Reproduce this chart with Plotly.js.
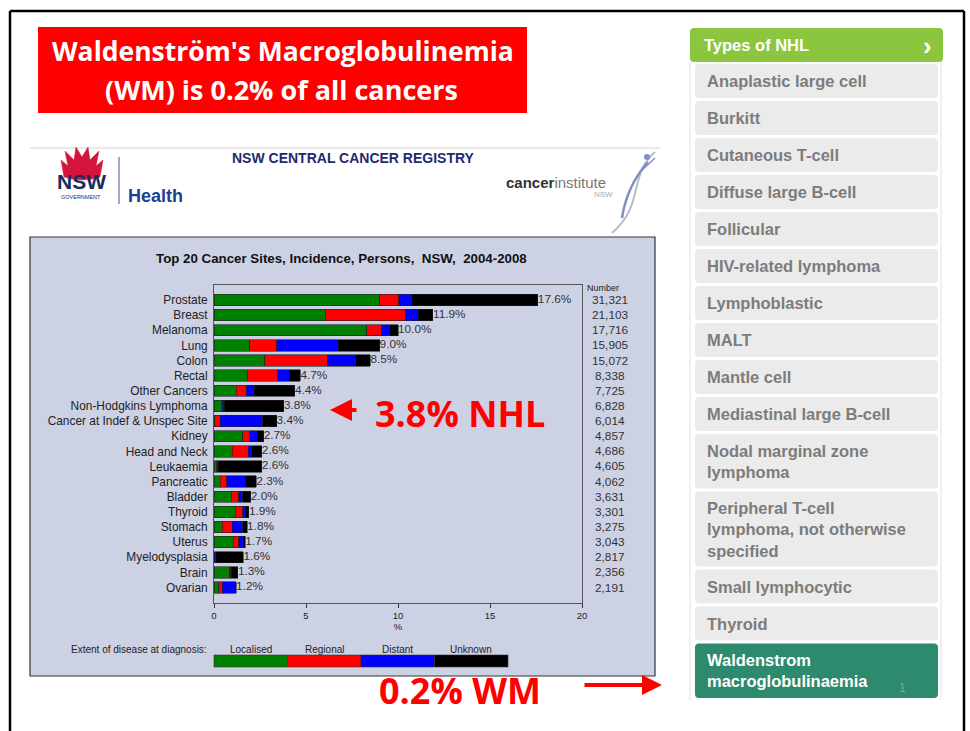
<!DOCTYPE html>
<html>
<head>
<meta charset="utf-8">
<script src="https://cdn.plot.ly/plotly-3.0.1.min.js"></script>
<style>
html,body{margin:0;padding:0;background:#fff;overflow:hidden;}
#chart{width:970px;height:731px;}
</style>
</head>
<body>
<div id="chart"></div>
<script>
// ---------------- DATA ----------------
const categories = ['Prostate','Breast','Melanoma','Lung','Colon','Rectal','Other Cancers','Non-Hodgkins Lymphoma','Cancer at Indef & Unspec Site','Kidney','Head and Neck','Leukaemia','Pancreatic','Bladder','Thyroid','Stomach','Uterus','Myelodysplasia','Brain','Ovarian'];
const localised = [9.0,6.05,8.3,1.95,2.75,1.8,1.2,0.4,0.05,1.55,1.0,0.15,0.35,0.95,1.15,0.45,1.05,0.02,0.85,0.25];
const regional  = [1.05,4.35,0.8,1.45,3.4,1.65,0.55,0.05,0.3,0.4,0.85,0.02,0.35,0.4,0.4,0.55,0.3,0.0,0.05,0.2];
const distant   = [0.7,0.7,0.45,3.35,1.55,0.65,0.45,0.1,2.3,0.4,0.2,0.05,1.0,0.2,0.15,0.55,0.25,0.08,0.05,0.7];
const unknown   = [6.85,0.8,0.45,2.25,0.8,0.6,2.2,3.25,0.75,0.35,0.55,2.38,0.6,0.45,0.2,0.25,0.1,1.5,0.35,0.05];
const pctLabels = ['17.6%','11.9%','10.0%','9.0%','8.5%','4.7%','4.4%','3.8%','3.4%','2.7%','2.6%','2.6%','2.3%','2.0%','1.9%','1.8%','1.7%','1.6%','1.3%','1.2%'];
const numbers   = ['31,321','21,103','17,716','15,905','15,072','8,338','7,725','6,828','6,014','4,857','4,686','4,605','4,062','3,631','3,301','3,275','3,043','2,817','2,356','2,191'];
const seriesNames = ['Localised','Regional','Distant','Unknown'];
const seriesColors = ['#008000','#ff0000','#0000ff','#000000'];
const xTicks = [0,5,10,15,20];
const nhlTypes = ['Anaplastic large cell','Burkitt','Cutaneous T-cell','Diffuse large B-cell','Follicular','HIV-related lymphoma','Lymphoblastic','MALT','Mantle cell','Mediastinal large B-cell','Nodal marginal zone<br>lymphoma','Peripheral T-cell<br>lymphoma, not otherwise<br>specified','Small lymphocytic','Thyroid','Waldenstrom<br>macroglobulinaemia'];

// ---------------- HELPERS ----------------
const W = 970, H = 731;
const X = p => p / W;
const Y = p => 1 - p / H;
const SANS = 'Liberation Sans, Arial, sans-serif';
const OPEN = 'Open Sans, Liberation Sans, sans-serif';
function rect(x0,y0,x1,y1,fill,line,lw,layer){
  return {type:'rect',xref:'paper',yref:'paper',x0:X(x0),x1:X(x1),y0:Y(y1),y1:Y(y0),
    fillcolor:fill,line:{color:line||fill,width:lw===undefined?0:lw},layer:layer||'below'};
}
function seg(x0,y0,x1,y1,color,w){
  return {type:'line',xref:'paper',yref:'paper',x0:X(x0),x1:X(x1),y0:Y(y0),y1:Y(y1),line:{color:color,width:w},layer:'above'};
}
function pth(pts,fill,line,lw,layer){
  return {type:'path',xref:'paper',yref:'paper',path:pts,fillcolor:fill,line:{color:line,width:lw},layer:layer||'above'};
}
const P = (x,y) => X(x).toFixed(5)+','+Y(y).toFixed(5);
function rrect(x0,y0,x1,y1,r){
  return 'M '+P(x0+r,y0)+' L '+P(x1-r,y0)+' Q '+P(x1,y0)+' '+P(x1,y0+r)+
    ' L '+P(x1,y1-r)+' Q '+P(x1,y1)+' '+P(x1-r,y1)+' L '+P(x0+r,y1)+' Q '+P(x0,y1)+' '+P(x0,y1-r)+
    ' L '+P(x0,y0+r)+' Q '+P(x0,y0)+' '+P(x0+r,y0)+' Z';
}
function txt(text,x,y,size,color,opts){
  return Object.assign({xref:'paper',yref:'paper',x:X(x),y:Y(y),text:text,showarrow:false,
    font:{family:SANS,size:size,color:color},xanchor:'center',yanchor:'middle'},opts||{});
}

// ---------------- TRACES ----------------
const seriesData = [localised, regional, distant, unknown];
const traces = seriesData.map((vals,i) => ({
  type:'bar', orientation:'h', name:seriesNames[i], x:vals, y:categories,
  marker:{color:seriesColors[i], line:{color:'#222', width:0.6}},
  hoverinfo:'skip', showlegend:false
}));
const totals = categories.map((c,i) => seriesData.reduce((s,arr)=>s+arr[i],0));
traces.push({
  type:'scatter', mode:'text', x:totals, y:categories, text:pctLabels,
  textposition:'middle right', textfont:{family:SANS,size:11.8,color:'#333'},
  cliponaxis:false, showlegend:false, hoverinfo:'skip'
});

// ---------------- SHAPES ----------------
const shapes = [];
shapes.push(seg(10,11,10,731,'#000',2.5));
shapes.push(seg(10,11,964,11,'#000',2.5));
shapes.push(seg(964,11,964,731,'#000',2.5));
shapes.push(rect(38,27,527,113,'#ff0000'));
shapes.push(seg(30,148,660,148,'#d4d4d4',1));
shapes.push(rect(30,237,655,676,'#cdd1e4','#333',1.2));
seriesNames.forEach((n,i)=>{
  const x0 = 214 + i*73.5;
  shapes.push(rect(x0,655,x0+73.5,667,seriesColors[i],'#333',0.6,'above'));
});
shapes.push(seg(119,157,119,204,'#5a6fa8',1.2));
shapes.push(pth('M '+P(64,177)+' L '+P(61,160)+' L '+P(68,166)+' L '+P(65,151)+' L '+P(74,160)+' L '+P(76,147)+
  ' L '+P(82,157)+' L '+P(88,147)+' L '+P(90,160)+' L '+P(99,151)+' L '+P(96,166)+' L '+P(103,160)+
  ' L '+P(100,177)+' Q '+P(82,183)+' '+P(64,177)+' Z','#d4143b','#d4143b',0.5));
shapes.push(pth('M '+P(655,152)+' C '+P(628,175)+' '+P(645,205)+' '+P(612,233),'rgba(0,0,0,0)','#b9bcc6',2));
shapes.push(pth('M '+P(648,162)+' C '+P(632,180)+' '+P(625,198)+' '+P(622,218),'rgba(0,0,0,0)','#7d8fc3',2.5));
shapes.push(pth('M '+P(640,172)+' L '+P(655,158),'rgba(0,0,0,0)','#7d8fc3',1.5));
shapes.push({type:'circle',xref:'paper',yref:'paper',x0:X(644),x1:X(650),y0:Y(160),y1:Y(154),fillcolor:'#7d8fc3',line:{width:0}});
shapes.push(seg(690,62,690,700,'#e2e2e2',1));
shapes.push(seg(941,62,941,700,'#e2e2e2',1));
shapes.push(pth(rrect(690,28,943,62,4),'#8cc63f','#8cc63f',0));

// ---------------- ANNOTATIONS ----------------
const ann = [];
ann.push(txt('<b>Waldenström\'s Macroglobulinemia</b>',283,51,26.5,'#fff',{font:{family:OPEN,size:26.5,color:'#fff'}}));
ann.push(txt('<b>(WM) is 0.2% of all cancers</b>',281,89,27,'#fff',{font:{family:OPEN,size:27,color:'#fff'}}));
ann.push(txt('<b>NSW CENTRAL CANCER REGISTRY</b>',353,158,14,'#1f2a6e'));
ann.push(txt('<b>NSW</b>',81,181,21,'#1b2b5e'));
ann.push(txt('GOVERNMENT',81,197,5.5,'#1b2b5e'));
ann.push(txt('<b>Health</b>',155,196,18,'#1d3f8f'));
ann.push(txt('<b>cancer</b><span style="color:#777">institute</span>',556,182,15,'#333'));
ann.push(txt('NSW',603,194,8,'#aaa'));
ann.push(txt('<b>Top 20 Cancer Sites, Incidence, Persons,\u00a0\u00a0NSW,\u00a0\u00a02004-2008</b>',341,258,13.3,'#111'));
ann.push(txt('Number',603,288,9,'#222'));
categories.forEach((c,i)=>{
  ann.push({xref:'paper',yref:'y',x:X(610),y:c,text:numbers[i],showarrow:false,
    xanchor:'center',yanchor:'middle',font:{family:SANS,size:11.8,color:'#333'}});
});
ann.push(txt('Extent of disease at diagnosis:',139,649,10,'#222'));
seriesNames.forEach((n,i)=>{
  ann.push(txt(n,214+i*73.5+36.75,649,10,'#222'));
});
ann.push(txt('<b>3.8% NHL</b>',460,413,36,'#ff0000',{font:{family:OPEN,size:36,color:'#ff0000'}}));
ann.push({xref:'paper',yref:'paper',x:X(330),y:Y(410),ax:28,ay:0,text:'',showarrow:true,
  arrowhead:2,arrowsize:1.1,arrowwidth:4,arrowcolor:'#ff0000'});
ann.push(txt('<b>0.2% WM</b>',460,690,36,'#ff0000',{font:{family:OPEN,size:36,color:'#ff0000'}}));
ann.push({xref:'paper',yref:'paper',x:X(662),y:Y(685),ax:-79,ay:0,text:'',showarrow:true,
  arrowhead:2,arrowsize:1.0,arrowwidth:4,arrowcolor:'#ff0000'});
ann.push(txt('<b>Types of NHL</b>',702,45,16.5,'#fff',{xanchor:'left'}));
ann.push(txt('<b>›</b>',927,46,26,'#fff'));
let boxTop = 64;
nhlTypes.forEach((t,i)=>{
  const lines = t.split('<br>').length;
  const h = 34 + (lines-1)*20.5;
  const last = i === nhlTypes.length-1;
  shapes.push(pth(rrect(695,boxTop,938,boxTop+h,4), last ? '#2e8a6e' : '#ebebeb', last ? '#2e8a6e' : '#ebebeb', 0, 'below'));
  ann.push(txt('<b>'+t+'</b>',705,boxTop+h/2,16.5,last?'#ffffff':'#7c7c7c',{xanchor:'left',align:'left'}));
  boxTop += h + 3;
});
ann.push(txt('1',902,688,12,'#7fa99a'));

// ---------------- LAYOUT ----------------
const layout = {
  width:W, height:H,
  margin:{l:0,r:0,t:0,b:0,pad:0},
  paper_bgcolor:'#ffffff', plot_bgcolor:'#ffffff',
  barmode:'stack', bargap:0.25,
  showlegend:false,
  xaxis:{domain:[X(214),X(582)], range:[0,20], tickvals:xTicks, ticktext:xTicks.map(String),
    ticks:'outside', ticklen:4, tickcolor:'#333', tickwidth:1,
    tickfont:{family:SANS,size:9.5,color:'#222'},
    showline:true, mirror:true, linecolor:'#555', linewidth:1,
    showgrid:false, zeroline:false, fixedrange:true,
    title:{text:'%', font:{family:SANS,size:9.5,color:'#222'}, standoff:2}},
  yaxis:{domain:[Y(603),Y(285)], type:'category', categoryorder:'array', categoryarray:categories,
    range:[20.02,-0.99], ticks:'', showline:true, mirror:true, linecolor:'#555', linewidth:1,
    tickfont:{family:SANS,size:11.9,color:'#222'}, showgrid:false, zeroline:false, fixedrange:true,
    ticklabelstandoff:3},
  shapes:shapes,
  annotations:ann,
  font:{family:SANS}
};
Plotly.newPlot('chart', traces, layout, {displayModeBar:false, staticPlot:true});
</script>
</body>
</html>
